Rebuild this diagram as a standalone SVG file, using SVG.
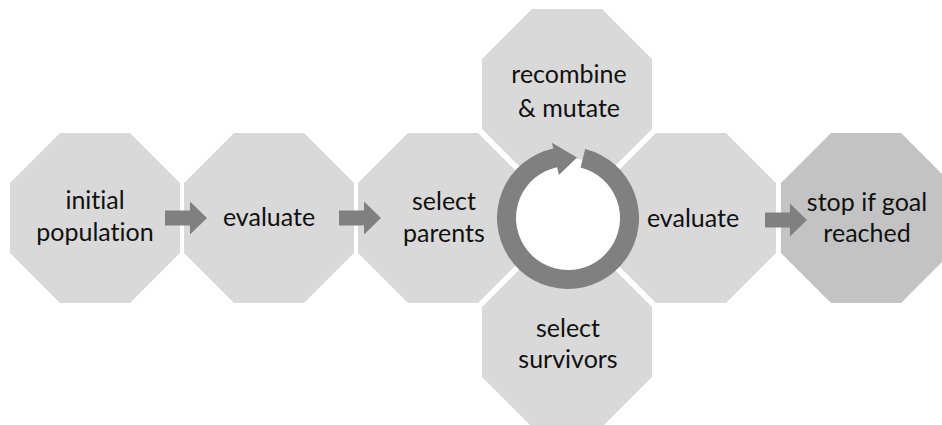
<svg xmlns="http://www.w3.org/2000/svg" xmlns:xlink="http://www.w3.org/1999/xlink" width="942" height="425" viewBox="0 0 942 425">
<style>
.oct{fill:#d9d9d9}
.oct2{fill:#c3c3c3}
.lbl{font-family:Lato,"Open Sans","Liberation Sans",sans-serif;font-size:25px;fill:#111;text-anchor:middle;font-variant-ligatures:none;font-feature-settings:"liga" 0,"clig" 0}
.arr{fill:#808080}
</style>
<defs>
<polygon id="octShape" points="-35,-85 35,-85 85,-35 85,35 35,85 -35,85 -85,35 -85,-35"/>
</defs>
<rect width="942" height="425" fill="#fff"/>
<g id="n-initial">
<use xlink:href="#octShape" class="oct" transform="translate(95,218)"/>
<text class="lbl" x="95" y="209">initial</text>
<text class="lbl" x="95" y="241">population</text>
</g>
<g id="n-evaluate1">
<use xlink:href="#octShape" class="oct" transform="translate(269,218)"/>
<text class="lbl" x="269" y="226">evaluate</text>
</g>
<g id="n-parents">
<use xlink:href="#octShape" class="oct" transform="translate(443,218)"/>
<text class="lbl" x="444" y="210">select</text>
<text class="lbl" x="444" y="242">parents</text>
</g>
<g id="n-recombine">
<use xlink:href="#octShape" class="oct" transform="translate(567,94)"/>
<text class="lbl" x="569" y="83">recombine</text>
<text class="lbl" x="569" y="117">&amp; mutate</text>
</g>
<g id="n-survivors">
<use xlink:href="#octShape" class="oct" transform="translate(567,342)"/>
<text class="lbl" x="568" y="337">select</text>
<text class="lbl" x="568" y="368">survivors</text>
</g>
<g id="n-evaluate2">
<use xlink:href="#octShape" class="oct" transform="translate(691,218)"/>
<text class="lbl" x="693" y="227">evaluate</text>
</g>
<g id="n-stop">
<use xlink:href="#octShape" class="oct2" transform="translate(866,218)"/>
<text class="lbl" x="867" y="211">stop if goal</text>
<text class="lbl" x="867" y="242">reached</text>
</g>
<g id="connectors">
<polygon class="arr" points="165,210.5 190,210.5 190,201.5 207,218 190,234.5 190,225.5 165,225.5"/>
<polygon class="arr" points="339,210.5 364,210.5 364,201.5 381,218 364,234.5 364,225.5 339,225.5"/>
<polygon class="arr" points="765,212.5 790,212.5 790,203.5 807,220 790,236.5 790,227.5 765,227.5"/>
<circle cx="568" cy="218" r="60" fill="#fff"/>
<path class="arr" d="M585.18 149.11 A71 71 0 1 1 553.24 148.55 L551.99 142.68 L577 157.5 L558.85 174.96 L557.19 167.14 A52 52 0 1 0 580.58 167.54 Z"/>
</g>
</svg>
